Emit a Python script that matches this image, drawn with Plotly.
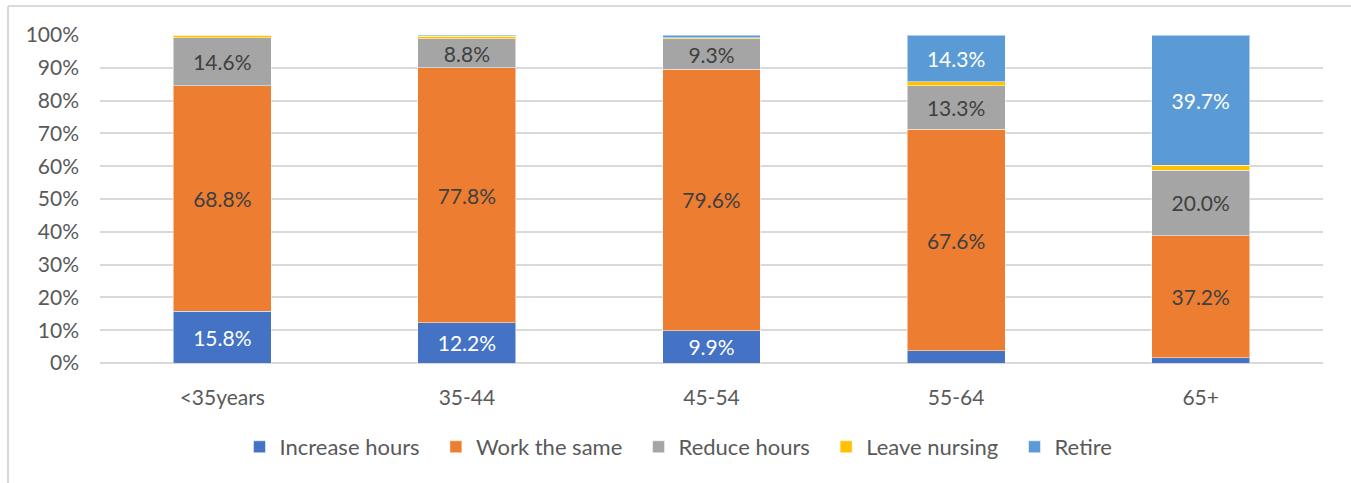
import plotly.graph_objects as go

# age groups and share (%) of each intention
groups = ["<35years", "35-44", "45-54", "55-64", "65+"]
increase = [15.8, 12.2, 9.9, 3.7, 1.6]
same = [68.8, 77.8, 79.6, 67.6, 37.2]
reduce = [14.6, 8.8, 9.3, 13.3, 20.0]
leave = [0.8, 0.8, 0.4, 1.1, 1.5]
retire = [0.0, 0.4, 0.8, 14.3, 39.7]

series = [
    ("Increase hours", increase, "#4472C4", "white"),
    ("Work the same", same, "#ED7D31", "#404040"),
    ("Reduce hours", reduce, "#A5A5A5", "#404040"),
    ("Leave nursing", leave, "#FFC000", "#404040"),
    ("Retire", retire, "#5B9BD5", "white"),
]

W, H = 1351, 483
L, R, T, B = 100, 28, 35, 120
FONT = "Lato, Open Sans, sans-serif"

fig = go.Figure()
for i, (name, vals, color, tcolor) in enumerate(series):
    labels = [f"{v:.1f}%" if v >= 5 else "" for v in vals]
    # a little extra room after each legend entry, like the original
    pad = "\u00a0\u00a0" if i < len(series) - 1 else ""
    fig.add_trace(go.Bar(
        x=groups, y=vals, name=name + pad,
        marker=dict(color=color, line=dict(color="rgba(255,255,255,0.5)", width=1)),
        text=labels, textposition="inside", insidetextanchor="middle",
        textangle=0, constraintext="none",
        textfont=dict(color=tcolor, size=21, family=FONT),
        hovertemplate="%{x}: %{y:.1f}%<extra>" + name + "</extra>",
    ))

# chart area border (left and top edges visible in the reference)
pw, ph = W - L - R, H - T - B
x0 = (8 - L) / pw
y0 = (H - 6 - B) / ph
fig.add_shape(type="line", xref="paper", yref="paper", x0=x0, x1=x0, y0=-B / ph, y1=y0,
              line=dict(color="#d9d9d9", width=2))
fig.add_shape(type="line", xref="paper", yref="paper", x0=x0, x1=(pw + R) / pw, y0=y0, y1=y0,
              line=dict(color="#d9d9d9", width=2))

fig.update_layout(
    width=W, height=H,
    margin=dict(l=L, r=R, t=T, b=B),
    barmode="stack", bargap=0.6,
    plot_bgcolor="white", paper_bgcolor="white",
    font=dict(family=FONT, size=21, color="#595959"),
    showlegend=True,
    legend=dict(orientation="h", x=0.473, xanchor="center", y=-0.256, yanchor="middle",
                font=dict(size=22, color="#595959"), traceorder="normal"),
    xaxis=dict(showgrid=False, showline=False, ticks="", tickfont=dict(size=21),
               ticklabelstandoff=20),
    yaxis=dict(range=[0, 100], dtick=10, ticksuffix="%", showgrid=True,
               gridcolor="#d9d9d9", gridwidth=2, zeroline=True, zerolinecolor="#d9d9d9",
               zerolinewidth=2, showline=False, tickfont=dict(size=21),
               ticklabelstandoff=20),
)

# drop the default page margin so the figure sits at the window's corner
fig.write_html("out.html", config={"displayModeBar": False},
               post_script="document.body.style.margin='0px';")
